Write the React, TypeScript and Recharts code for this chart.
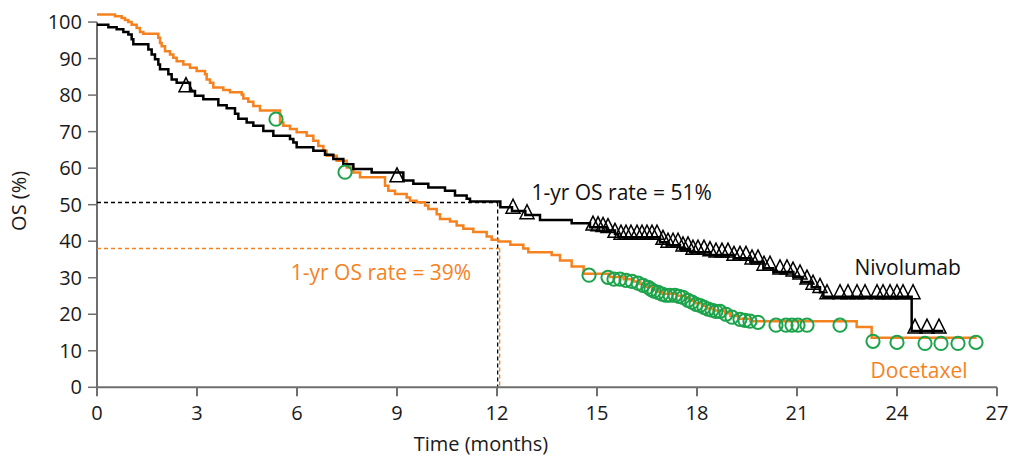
import React from 'react';
import {
  ComposedChart,
  Line,
  Scatter,
  XAxis,
  YAxis,
  ReferenceLine,
  ReferenceDot,
} from 'recharts';

// Kaplan-Meier steps (months, OS %)
const nivoMonths = [
  0, 0.34, 0.59, 0.79, 0.94, 1.04, 1.09, 1.54, 1.64, 1.74, 1.84, 1.89, 2.14, 2.24, 2.39, 2.79, 2.94,
  3.19, 3.64, 3.89, 4.14, 4.24, 4.49, 4.69, 4.99, 5.29, 5.79, 5.89, 5.99, 6.49, 6.84, 7.09, 7.39,
  7.69, 8.24, 9.19, 9.49, 9.94, 10.44, 10.74, 11.09, 11.19, 12.1, 12.45, 12.85, 13.29, 14.24, 14.79,
  15.29, 15.54, 15.64, 16.89, 17.09, 17.49, 17.79, 18.4, 19.1, 19.6, 19.99, 20.29, 20.89, 21.14,
  21.44, 21.69, 21.79, 24.44, 25.39,
];
const nivoOS = [
  99.3, 98.6, 98.0, 97.3, 96.6, 95.3, 93.9, 92.5, 91.1, 89.8, 88.4, 87.1, 85.7, 84.3, 83.4, 81.1, 79.8,
  78.9, 77.2, 76.4, 74.9, 73.5, 72.5, 71.6, 70.2, 68.9, 68.0, 67.0, 65.7, 64.8, 63.7, 62.5, 61.1,
  59.8, 58.8, 56.6, 55.7, 54.7, 53.8, 52.5, 51.6, 50.9, 49.3, 48.3, 47.2, 45.8, 44.9, 43.8,
  42.9, 42.0, 41.1, 39.7, 38.9, 37.9, 37.0, 36.2, 35.3, 34.3, 32.6, 31.6, 30.2, 28.8,
  27.4, 26.0, 24.8, 15.4, 15.4,
];

const doceMonths = [
  0, 0.54, 0.74, 0.84, 0.94, 1.04, 1.19, 1.29, 1.39, 1.84, 1.89, 1.94, 2.04, 2.19, 2.29, 2.39, 2.59,
  2.79, 2.99, 3.24, 3.29, 3.39, 3.49, 3.79, 3.99, 4.34, 4.39, 4.54, 4.69, 4.89, 5.49, 5.59, 5.79,
  5.99, 6.29, 6.49, 6.64, 6.79, 6.89, 7.19, 7.49, 7.69, 7.89, 8.64, 8.74, 8.94, 9.29, 9.39, 9.59,
  9.84, 9.94, 10.19, 10.29, 10.59, 10.79, 10.99, 11.29, 11.69, 11.84, 12.04, 12.4, 12.79, 12.94,
  13.64, 13.89, 14.24, 14.6, 15.4, 15.8, 16.1, 16.3, 16.5, 16.65, 16.8, 16.95, 17.4, 17.65, 17.8,
  17.95, 18.15, 18.3, 18.5, 18.85, 19.0, 19.25, 19.6, 22.79, 23.24, 26.39,
];
const doceOS = [
  102.1, 101.6, 101.1, 100.6, 100.0, 99.3, 98.4, 97.3, 96.8, 95.7, 94.3, 93.4, 92.0, 91.1, 90.2, 89.3, 88.4,
  87.5, 86.6, 85.7, 84.3, 83.4, 82.1, 81.4, 80.8, 80.2, 79.1, 78.2, 77.0, 75.8, 72.5, 71.6, 70.7,
  69.8, 68.9, 67.5, 66.1, 64.8, 63.4, 62.0, 60.2, 58.8, 57.5, 55.2, 53.8, 52.9, 52.0, 51.1, 50.7,
  49.8, 48.8, 47.4, 46.1, 45.4, 44.3, 43.4, 42.5, 41.3, 40.4, 39.9, 39.0, 38.0, 37.0,
  36.2, 34.7, 33.1, 31.1, 30.2, 29.6, 29.0, 28.3, 27.5, 26.8, 26.2, 25.6, 25.1, 24.3, 23.6,
  23.0, 22.3, 21.6, 21.0, 20.3, 19.5, 18.8, 18.1, 16.5, 13.6, 13.6,
];

// censor marks
const nivoCensorMonths = [
  2.67, 9.0, 12.48, 12.9, 14.88, 15.03, 15.18, 15.33, 15.54, 15.72, 15.87, 16.02, 16.2, 16.35, 16.5,
  16.65, 16.8, 16.98, 17.13, 17.28, 17.43, 17.58, 17.73, 17.88, 18.03, 18.21, 18.39, 18.57, 18.75,
  18.93, 19.11, 19.29, 19.47, 19.65, 19.83, 20.01, 20.19, 20.49, 20.7, 20.88, 21.09, 21.3, 21.48,
  21.69, 21.9, 22.29, 22.53, 22.8, 23.04, 23.4, 23.58, 23.79, 24.0, 24.18, 24.48, 24.54, 24.9, 25.26,
];
const nivoCensorOS = [
  81.5, 56.8, 48.2, 46.7, 43.6, 43.4, 43.2, 42.9, 41.6, 41.1, 41.1, 41.1, 41.1, 41.1, 41.1,
  41.1, 41.1, 39.7, 38.9, 38.9, 38.9, 37.9, 37.9, 37.0, 37.0, 37.0, 36.6, 36.2, 36.2,
  36.2, 35.3, 35.3, 35.3, 34.3, 34.3, 32.6, 32.6, 31.6, 31.6, 31.0, 30.2, 28.8, 27.4,
  26.5, 24.8, 24.8, 24.8, 24.8, 24.8, 24.8, 24.8, 24.8, 24.8, 24.8, 24.8, 15.4, 15.4, 15.4,
];

const doceCensorMonths = [
  5.37, 7.44, 14.76, 15.33, 15.51, 15.69, 15.87, 16.05, 16.23, 16.38, 16.53, 16.62, 16.71, 16.83,
  16.95, 17.07, 17.19, 17.34, 17.46, 17.58, 17.73, 17.85, 17.97, 18.09, 18.21, 18.33, 18.45, 18.57,
  18.69, 18.87, 19.05, 19.29, 19.44, 19.59, 19.83, 20.37, 20.67, 20.85, 21.03, 21.3, 22.29, 23.28,
  24.0, 24.84, 25.32, 25.83, 26.37,
];
const doceCensorOS = [
  73.4, 58.9, 30.7, 30.1, 29.6, 29.6, 29.3, 29.0, 28.5, 27.9, 27.4, 26.8, 26.3, 26.0,
  25.5, 25.2, 25.2, 25.2, 24.9, 24.6, 23.8, 23.3, 22.7, 22.4, 21.9, 21.4, 21.1, 20.8,
  20.8, 20.0, 19.2, 18.6, 18.3, 18.1, 17.8, 17.0, 17.0, 17.0, 17.0, 17.0, 17.0, 12.6,
  12.3, 12.0, 12.0, 12.0, 12.3,
];

const xTicks = [0, 3, 6, 9, 12, 15, 18, 21, 24, 27];
const yTicks = [0, 10, 20, 30, 40, 50, 60, 70, 80, 90, 100];

const nivoRate = 50.6;
const doceRate = 38.0;

const BLACK = '#000000';
const ORANGE = '#f5821f';
const GREEN = '#1da34b';
const AXIS = '#6f6f6f';
const FONT = '"Open Sans", Lato, sans-serif';

const toRows = (t: number[], os: number[]) => t.map((m, i) => ({ t: m, os: os[i] }));

const nivoData = toRows(nivoMonths, nivoOS);
const doceData = toRows(doceMonths, doceOS);
const nivoCensor = toRows(nivoCensorMonths, nivoCensorOS);
const doceCensor = toRows(doceCensorMonths, doceCensorOS);

const Triangle = (props: any) => {
  const { cx, cy } = props;
  if (cx == null || cy == null) return null;
  return (
    <polygon
      points={`${cx},${cy - 12} ${cx - 7},${cy + 2} ${cx + 7},${cy + 2}`}
      fill="none"
      stroke={BLACK}
      strokeWidth={1.5}
    />
  );
};

const Ring = (props: any) => {
  const { cx, cy } = props;
  if (cx == null || cy == null) return null;
  return <circle cx={cx} cy={cy} r={6.6} fill="none" stroke={GREEN} strokeWidth={2} />;
};

const tickStyle = { fill: '#1a1a1a', fontSize: 20, fontFamily: FONT };

export default function App() {
  return (
    <div style={{ position: 'absolute', left: 0, top: 0, width: 1010, height: 458, background: '#fff', fontFamily: FONT }}>
      <ComposedChart width={1010} height={458} margin={{ top: 14.4, right: 13, bottom: 0, left: 0 }}>
        <XAxis
          type="number"
          dataKey="t"
          domain={[0, 27]}
          ticks={xTicks}
          interval={0}
          height={70.7}
          axisLine={{ stroke: AXIS, strokeWidth: 2 }}
          tickLine={{ stroke: AXIS, strokeWidth: 2 }}
          tickSize={9}
          tickMargin={9}
          tick={tickStyle}
          label={{ value: 'Time (months)', position: 'insideBottom', offset: 7, dx: -66, fill: '#1a1a1a', fontSize: 20, fontFamily: FONT }}
        />
        <YAxis
          type="number"
          dataKey="os"
          domain={[0, 102]}
          ticks={yTicks}
          interval={0}
          width={97}
          axisLine={false}
          tickLine={{ stroke: AXIS, strokeWidth: 1.5 }}
          tickSize={9}
          tickMargin={6}
          tick={tickStyle}
          label={{ value: 'OS (%)', angle: -90, position: 'center', dx: -30, fill: '#1a1a1a', fontSize: 20, fontFamily: FONT }}
        />
        <ReferenceLine segment={[{ x: 0, y: 0 }, { x: 0, y: 100 }]} stroke={AXIS} strokeWidth={2} />

        <ReferenceLine segment={[{ x: 0, y: nivoRate }, { x: 12.02, y: nivoRate }]} stroke={BLACK} strokeWidth={1.3} strokeDasharray="4 3" />
        <ReferenceLine segment={[{ x: 12.02, y: nivoRate }, { x: 12.02, y: 0 }]} stroke={BLACK} strokeWidth={1.3} strokeDasharray="4 3" />
        <ReferenceLine segment={[{ x: 0, y: doceRate }, { x: 12.08, y: doceRate }]} stroke={ORANGE} strokeWidth={1.3} strokeDasharray="4 3" />
        <ReferenceLine segment={[{ x: 12.08, y: doceRate }, { x: 12.08, y: 0 }]} stroke={ORANGE} strokeWidth={1.3} strokeDasharray="4 3" />

        <Line data={doceData} dataKey="os" type="stepAfter" stroke={ORANGE} strokeWidth={2.5} dot={false} activeDot={false} isAnimationActive={false} />
        <Line data={nivoData} dataKey="os" type="stepAfter" stroke={BLACK} strokeWidth={2.5} dot={false} activeDot={false} isAnimationActive={false} />
        <Scatter data={doceCensor} dataKey="os" shape={<Ring />} isAnimationActive={false} />
        <Scatter data={nivoCensor} dataKey="os" shape={<Triangle />} isAnimationActive={false} />

        <ReferenceDot x={15.74} y={53.4} r={0} stroke="none" label={{ value: '1-yr OS rate = 51%', position: 'center', fill: '#111', fontSize: 21, fontFamily: FONT }} />
        <ReferenceDot x={8.52} y={31.5} r={0} stroke="none" label={{ value: '1-yr OS rate = 39%', position: 'center', fill: ORANGE, fontSize: 21, fontFamily: FONT }} />
        <ReferenceDot x={24.32} y={32.9} r={0} stroke="none" label={{ value: 'Nivolumab', position: 'center', fill: '#111', fontSize: 21, fontFamily: FONT }} />
        <ReferenceDot x={24.66} y={4.5} r={0} stroke="none" label={{ value: 'Docetaxel', position: 'center', fill: ORANGE, fontSize: 21, fontFamily: FONT }} />
      </ComposedChart>
    </div>
  );
}
